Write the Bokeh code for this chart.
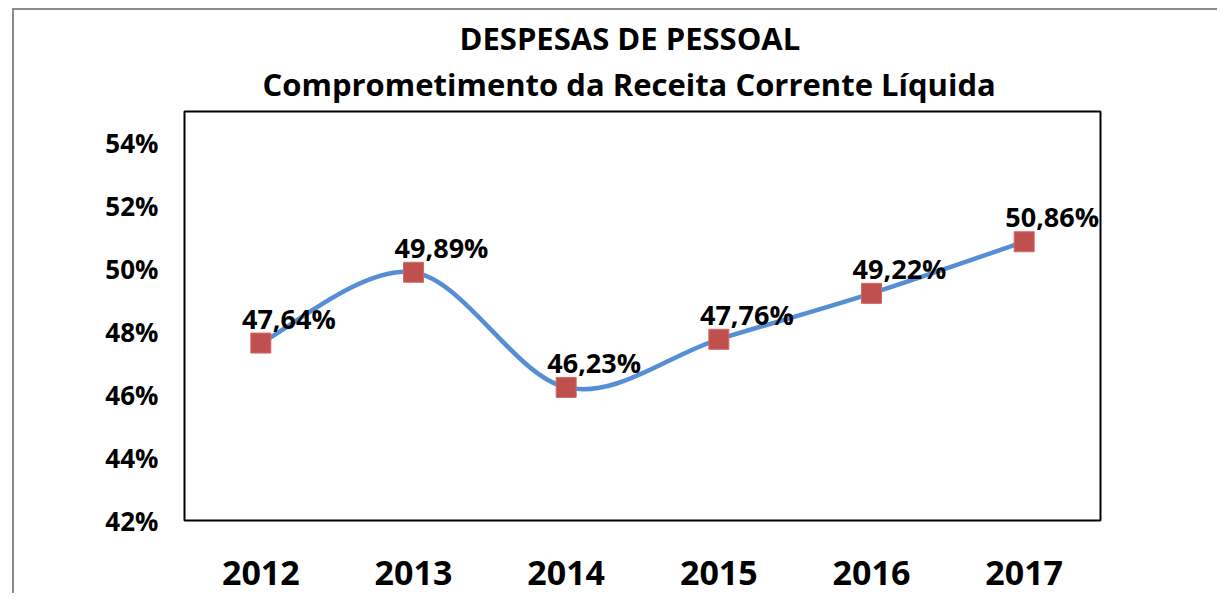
from bokeh.plotting import figure
from bokeh.models import Range1d, FixedTicker, PrintfTickFormatter, Title, ColumnDataSource
from bokeh.core.properties import value
from bokeh.embed import file_html
from bokeh.resources import INLINE

years = ["2012", "2013", "2014", "2015", "2016", "2017"]
values = [47.64, 49.89, 46.23, 47.76, 49.22, 50.86]
y_ticks = [42, 44, 46, 48, 50, 52, 54]
title_line1 = "DESPESAS DE PESSOAL"
title_line2 = "Comprometimento da Receita Corrente Líquida"

FONT = "Open Sans"
xs = [i + 0.5 for i in range(len(years))]
labels = [f"{v:.2f}%".replace(".", ",") for v in values]

# smoothed line (Catmull-Rom converted to cubic Bezier segments)
n = len(xs)
seg = dict(x0=[], y0=[], x1=[], y1=[], cx0=[], cy0=[], cx1=[], cy1=[])
for i in range(n - 1):
    p0 = (xs[max(i - 1, 0)], values[max(i - 1, 0)])
    p1 = (xs[i], values[i])
    p2 = (xs[i + 1], values[i + 1])
    p3 = (xs[min(i + 2, n - 1)], values[min(i + 2, n - 1)])
    seg["x0"].append(p1[0]); seg["y0"].append(p1[1])
    seg["x1"].append(p2[0]); seg["y1"].append(p2[1])
    seg["cx0"].append(p1[0] + (p2[0] - p0[0]) / 6); seg["cy0"].append(p1[1] + (p2[1] - p0[1]) / 6)
    seg["cx1"].append(p2[0] - (p3[0] - p1[0]) / 6); seg["cy1"].append(p2[1] - (p3[1] - p1[1]) / 6)

p = figure(width=1205, height=585, x_range=Range1d(0, 6), y_range=Range1d(42, 55),
           output_backend="svg", toolbar_location=None,
           min_border_left=170, min_border_right=119, min_border_top=101, min_border_bottom=75)
p.margin = (8, 0, 0, 12)
p.styles = {"border-left": "2px solid #8c8c8c", "border-top": "2px solid #8c8c8c"}

p.title.text = title_line1
p.title.align = "left"
p.title.offset = 275
p.title.text_font = FONT
p.title.text_font_size = "31px"
p.title.text_font_style = "bold"
p.title.text_color = "black"
p.title.standoff = -8
t2 = Title(text=title_line2, align="left", offset=78, text_font=FONT, text_font_size="31px",
           text_font_style="bold", text_color="black", standoff=13)
p.add_layout(t2, "above")

p.grid.visible = False
p.outline_line_color = "black"
p.outline_line_width = 2

p.xaxis.ticker = FixedTicker(ticks=xs)
p.xaxis.major_label_overrides = {x: y for x, y in zip(xs, years)}
p.yaxis.ticker = FixedTicker(ticks=y_ticks)
p.yaxis.formatter = PrintfTickFormatter(format="%d%%")
for ax in (p.xaxis[0], p.yaxis[0]):
    ax.axis_line_color = None
    ax.major_tick_line_color = None
    ax.minor_tick_line_color = None
    ax.major_label_text_font = FONT
    ax.major_label_text_font_style = "bold"
    ax.major_label_text_color = "black"
p.xaxis.major_label_text_font_size = "34px"
p.xaxis.major_label_standoff = 34
p.yaxis.major_label_text_font_size = "26px"
p.yaxis.major_label_standoff = 20

p.bezier(source=ColumnDataSource(seg), x0="x0", y0="y0", x1="x1", y1="y1",
         cx0="cx0", cy0="cy0", cx1="cx1", cy1="cy1",
         line_color="#558ED5", line_width=4.5, line_cap="round")

src = ColumnDataSource(dict(x=xs, y=values, label=labels))
p.scatter("x", "y", source=src, marker="square", size=20,
          fill_color="#C0504D", line_color="#CF6A67", line_width=1)
p.text("x", "y", text="label", source=src, x_offset=28, y_offset=-25,
       text_align="center", text_baseline="middle",
       text_font=value(FONT), text_font_size="27px", text_font_style="bold", text_color="black")

open("out.html", "w").write(file_html(p, INLINE))
